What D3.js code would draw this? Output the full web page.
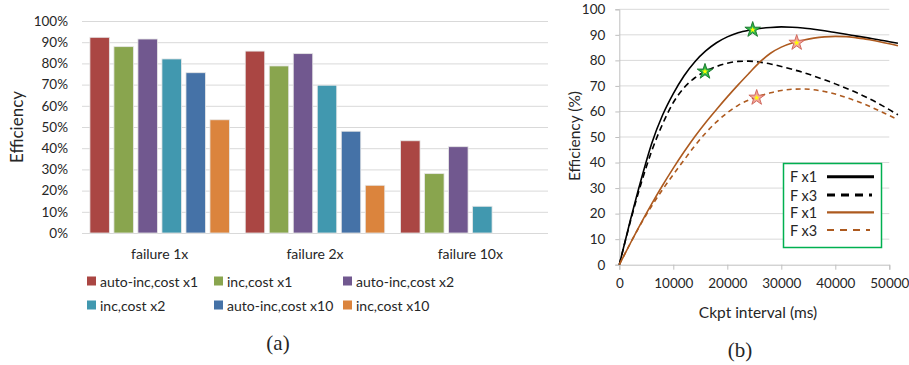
<!DOCTYPE html>
<html>
<head>
<meta charset="utf-8">
<script src="https://cdn.jsdelivr.net/npm/d3@7"></script>
<style>
  body { margin: 0; background: #fff; }
  text { font-family: Lato, "Liberation Sans", sans-serif; fill: #262626; }
  .cap { font-family: "Liberation Serif", "DejaVu Serif", serif; }
</style>
</head>
<body>
<svg id="chart" width="909" height="365"></svg>
<script>
// ---- data, panel (a) ----
const groups = ["failure 1x", "failure 2x", "failure 10x"];
const seriesNames = [
  "auto-inc,cost x1", "inc,cost x1", "auto-inc,cost x2",
  "inc,cost x2", "auto-inc,cost x10", "inc,cost x10",
];
const seriesColors = ["#AA4643", "#89A54E", "#71588F", "#4198AF", "#4572A7", "#DB843D"];
const failure1x = [0.923, 0.879, 0.915, 0.821, 0.756, 0.534];
const failure2x = [0.858, 0.788, 0.846, 0.697, 0.48, 0.225];
const failure10x = [0.435, 0.28, 0.407, 0.126, 0, 0];
const yTicksA = [0, 0.1, 0.2, 0.3, 0.4, 0.5, 0.6, 0.7, 0.8, 0.9, 1];

// ---- data, panel (b) ----
const ckptInterval = [0, 2000, 4000, 6000, 8000, 10000, 12000, 14000, 16000, 18000, 20000,
  22000, 24000, 26000, 28000, 30000, 32000, 34000, 36000, 38000, 40000, 42000, 44000,
  46000, 48000, 50000, 51600];
const effBlackF1 = [0, 17, 33, 47.5, 58.5, 67, 74, 79.5, 83.7, 86.9, 89.2, 90.8, 91.8, 92.5,
  92.9, 93.1, 93, 92.7, 92.2, 91.6, 90.9, 90.2, 89.5, 88.8, 88.1, 87.3, 86.7];
const effBlackF3 = [0, 16.5, 31.5, 44.5, 55, 63.5, 69.3, 73.2, 75.8, 77.6, 78.9, 79.6, 79.7,
  79.3, 78.6, 77.6, 76.5, 75.3, 73.9, 72.4, 70.8, 69.1, 67.3, 65.3, 63.1, 60.7, 58.7];
const effBrownF1 = [0, 8.2, 16.2, 23.8, 31, 37.8, 44.2, 50.2, 55.7, 60.8, 65.7, 70.4, 74.9,
  79.3, 82.8, 85.2, 86.8, 87.9, 88.7, 89.2, 89.4, 89.3, 88.8, 88.2, 87.4, 86.5, 85.7];
const effBrownF3 = [0, 8.2, 16, 23, 29.4, 35.3, 41, 46.6, 51.6, 55.9, 59.5, 62.4, 64.5, 66.1,
  67.3, 68.2, 68.7, 68.8, 68.5, 67.8, 66.8, 65.5, 64, 62.3, 60.4, 58.4, 56.8];
const starsGreen = [[24700, 92], [15870, 75.6]];
const starsPink = [[32850, 86.9], [25440, 65.4]];
const xTicksB = [0, 10000, 20000, 30000, 40000, 50000];
const yTicksB = [0, 10, 20, 30, 40, 50, 60, 70, 80, 90, 100];
const legendB = ["F x1", "F x3", "F x1", "F x3"];

const svg = d3.select("#chart");
const gridColor = "#D9D9D9";

// =================== panel (a) ===================
const a = { left: 82, right: 548, top: 21, bottom: 233 };
const barValues = [failure1x, failure2x, failure10x];

const x0 = d3.scaleBand().domain(groups).range([a.left, a.right]);
const x1 = d3.scaleBand().domain(d3.range(seriesNames.length))
  .range([0, x0.bandwidth()]).paddingInner(0.19).paddingOuter(0.33);
const yA = d3.scaleLinear().domain([0, 1]).range([a.bottom, a.top]);

const axA = svg.append("g")
  .attr("transform", `translate(${a.left},0)`)
  .call(d3.axisLeft(yA).tickValues(yTicksA).tickFormat(d3.format(".0%"))
    .tickSize(-(a.right - a.left)).tickPadding(14));
axA.select(".domain").remove();
axA.selectAll("line").attr("stroke", gridColor);
axA.selectAll("text").style("font-size", "13.5px").style("font-family", "Lato");

// bars
const gBars = svg.append("g");
groups.forEach((g, gi) => {
  gBars.selectAll(null)
    .data(barValues[gi].map((v, i) => ({ v, i })).filter((d) => d.v > 0))
    .join("rect")
    .attr("x", (d) => x0(g) + x1(d.i))
    .attr("y", (d) => yA(d.v))
    .attr("width", x1.bandwidth())
    .attr("height", (d) => yA(0) - yA(d.v))
    .attr("fill", (d) => seriesColors[d.i])
    .attr("stroke", "#e6e6e6")
    .attr("stroke-width", 0.8);
});

// group labels
svg.append("g").selectAll("text").data(groups).join("text")
  .attr("x", (d) => x0(d) + x0.bandwidth() / 2)
  .attr("y", 253)
  .attr("text-anchor", "middle")
  .attr("dominant-baseline", "central")
  .style("font-size", "14px")
  .text((d) => d);

svg.append("text")
  .attr("transform", "translate(16,127) rotate(-90)")
  .attr("text-anchor", "middle")
  .attr("dominant-baseline", "central")
  .style("font-size", "17px")
  .text("Efficiency");

// legend (a)
const legCols = [87, 214, 343];
const legRows = [281, 305];
const legA = svg.append("g").selectAll("g").data(seriesNames).join("g")
  .attr("transform", (d, i) => `translate(${legCols[i % 3]},${legRows[Math.floor(i / 3)]})`);
legA.append("rect").attr("x", 0).attr("y", -4.5).attr("width", 9).attr("height", 9)
  .attr("fill", (d, i) => seriesColors[i]);
legA.append("text").attr("x", 13).attr("dominant-baseline", "central")
  .style("font-size", "14px").text((d) => d);

svg.append("text").attr("class", "cap")
  .attr("x", 278).attr("y", 343)
  .attr("text-anchor", "middle").attr("dominant-baseline", "central")
  .style("font-size", "21px").text("(a)");

// =================== panel (b) ===================
const b = { left: 619.3, right: 889.3, top: 9.3, bottom: 264.7 };
const xB = d3.scaleLinear().domain([0, 50000]).range([b.left, b.right]);
const yB = d3.scaleLinear().domain([0, 100]).range([b.bottom, b.top]);

// grid
svg.append("g").selectAll("line").data(yTicksB.slice(1)).join("line")
  .attr("x1", b.left).attr("x2", b.right)
  .attr("y1", (d) => yB(d)).attr("y2", (d) => yB(d))
  .attr("stroke", gridColor);

const axYB = svg.append("g").attr("transform", `translate(${b.left},0)`)
  .call(d3.axisLeft(yB).tickValues(yTicksB).tickSize(4).tickPadding(10));
const axXB = svg.append("g").attr("transform", `translate(0,${b.bottom})`)
  .call(d3.axisBottom(xB).tickValues(xTicksB).tickFormat(d3.format("d")).tickSize(5).tickPadding(9));
[axYB, axXB].forEach((ax) => {
  ax.select(".domain").attr("stroke", "#BFBFBF");
  ax.selectAll("line").attr("stroke", "#BFBFBF");
  ax.selectAll("text").style("font-size", "13.5px").style("font-family", "Lato").attr("fill", "#262626");
});

const brown = "#AD5A1F";
const curves = [
  { values: effBlackF1, color: "#000", dash: null },
  { values: effBlackF3, color: "#000", dash: "6,4" },
  { values: effBrownF1, color: brown, dash: null },
  { values: effBrownF3, color: brown, dash: "5,4" },
];
const line = d3.line()
  .x((d) => xB(d[0]))
  .y((d) => yB(d[1]))
  .curve(d3.curveMonotoneX);
svg.append("g").selectAll("path").data(curves).join("path")
  .attr("d", (c) => line(ckptInterval.map((t, i) => [t, c.values[i]])))
  .attr("fill", "none")
  .attr("stroke", (c) => c.color)
  .attr("stroke-width", 1.6)
  .attr("stroke-dasharray", (c) => c.dash);

// optimum stars
function drawStars(pts, fill, stroke) {
  const g = svg.append("g").selectAll("g").data(pts).join("g")
    .attr("transform", (d) => `translate(${xB(d[0])},${yB(d[1])})`);
  g.append("path").attr("d", d3.symbol(d3.symbolStar, 75)())
    .attr("fill", fill).attr("stroke", stroke).attr("stroke-width", 1);
  g.append("path").attr("d", d3.symbol(d3.symbolStar, 12)())
    .attr("fill", "#FFFF00");
}
drawStars(starsGreen, "#2DB84A", "#1E7B30");
drawStars(starsPink, "#F2A59B", "#D06A5E");

svg.append("text")
  .attr("transform", "translate(574,136) rotate(-90)")
  .attr("text-anchor", "middle").attr("dominant-baseline", "central")
  .style("font-size", "15.5px").text("Efficiency (%)");
svg.append("text")
  .attr("x", 758).attr("y", 312)
  .attr("text-anchor", "middle").attr("dominant-baseline", "central")
  .style("font-size", "15.5px").text("Ckpt interval (ms)");

// legend (b)
svg.append("rect")
  .attr("x", 783.5).attr("y", 163.5).attr("width", 98).attr("height", 84)
  .attr("fill", "#fff").attr("stroke", "#00B050").attr("stroke-width", 1.5);
const legYB = [176.7, 195, 212.3, 230];
const legLineStyle = [
  { color: "#000", w: 3, dash: null, x2: 874 },
  { color: "#000", w: 3, dash: "8,6", x2: 872 },
  { color: brown, w: 2.2, dash: null, x2: 874 },
  { color: brown, w: 2.2, dash: "7,6", x2: 870 },
];
const legB = svg.append("g").selectAll("g").data(legendB).join("g")
  .attr("transform", (d, i) => `translate(0,${legYB[i]})`);
legB.append("text").attr("x", 790).attr("dominant-baseline", "central")
  .style("font-size", "14.5px").text((d) => d);
legB.append("line")
  .attr("x1", 827).attr("x2", (d, i) => legLineStyle[i].x2)
  .attr("stroke", (d, i) => legLineStyle[i].color)
  .attr("stroke-width", (d, i) => legLineStyle[i].w)
  .attr("stroke-dasharray", (d, i) => legLineStyle[i].dash);

svg.append("text").attr("class", "cap")
  .attr("x", 740).attr("y", 350)
  .attr("text-anchor", "middle").attr("dominant-baseline", "central")
  .style("font-size", "21px").text("(b)");
</script>
</body>
</html>
